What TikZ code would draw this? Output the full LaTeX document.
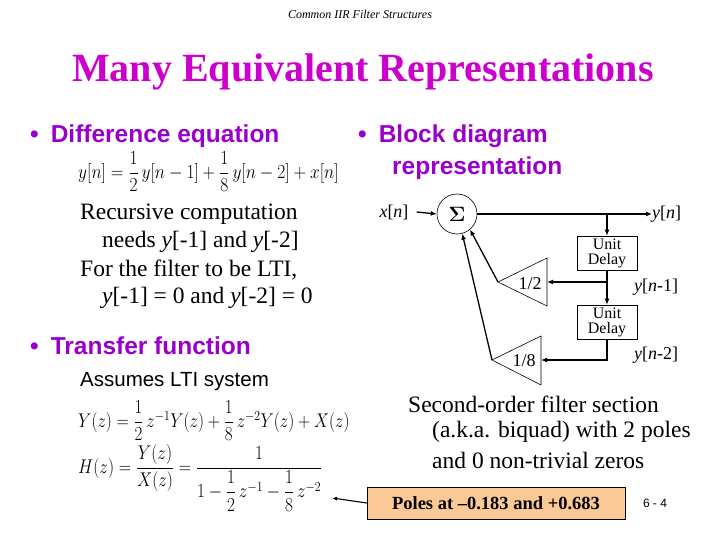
\documentclass[tikz,border=0pt]{standalone}
\usepackage{fontspec}
\setmainfont{Liberation Serif}
\setsansfont{Liberation Sans}
\usepackage{amsmath}
\usetikzlibrary{arrows.meta}
\definecolor{ttl}{HTML}{CC00CC}
\definecolor{bul}{HTML}{9900CC}
\definecolor{peach}{HTML}{FBC995}
\begin{document}
\begin{tikzpicture}[x=1pt,y=-1pt,
  body/.style={font=\fontsize{23.5}{26}\selectfont,inner sep=0pt},
  bull/.style={font=\fontsize{24.5}{28}\selectfont\sffamily\bfseries,text=bul,anchor=west,inner sep=0pt},
  eq/.style={font=\fontsize{17}{20}\selectfont,inner sep=0pt},
  dl/.style={draw,line width=0.6pt,minimum width=60pt,minimum height=34pt,align=center,font=\fontsize{16}{15}\selectfont,inner sep=1pt},
  sig/.style={line width=1.3pt,-{Latex[length=6pt,width=5pt]}},
  lbl/.style={font=\fontsize{18}{20}\selectfont,inner sep=0pt}]
\useasboundingbox (0,0) rectangle (720,540);
\node[font=\fontsize{12}{13}\selectfont\itshape] (hdr) at (360,14) {Common IIR Filter Structures};
\node[font=\fontsize{40}{44}\selectfont\bfseries,text=ttl] (title) at (363,72) {Many Equivalent Representations};
\node[bull] (b1) at (30,136) {\textbullet\hspace{12pt}Difference equation};
\node[eq,anchor=west] (de) at (78,172) {\scalebox{1.01}[1.15]{$y[n]=\dfrac{1}{2}\,y[n-1]+\dfrac{1}{8}\,y[n-2]+x[n]$}};
\node[body,anchor=west] (r1) at (80,214) {Recursive computation};
\node[body,anchor=west] (r2) at (102,242) {needs \textit{y}[-1] and \textit{y}[-2]};
\node[body,anchor=west] (r3) at (80,270) {For the filter to be LTI,};
\node[body,anchor=west] (r4) at (102,298) {\textit{y}[-1] = 0 and \textit{y}[-2] = 0};
\node[bull] (b2) at (30,346) {\textbullet\hspace{12pt}Transfer function};
\node[font=\fontsize{20.5}{22}\selectfont\sffamily,anchor=west,inner sep=0pt] (lti) at (80,382) {Assumes LTI system};
\node[eq,anchor=west] (yz) at (78,421) {\scalebox{0.98}[1.15]{$Y(z)=\dfrac{1}{2}\,z^{-1}Y(z)+\dfrac{1}{8}\,z^{-2}Y(z)+X(z)$}};
\node[eq,anchor=west] (hz) at (78,478) {\scalebox{0.99}[1.15]{$H(z)=\dfrac{Y(z)}{X(z)}=\dfrac{1}{1-\dfrac{1}{2}\,z^{-1}-\dfrac{1}{8}\,z^{-2}}$}};
\node[bull] (b3) at (358,136) {\textbullet\hspace{12pt}Block diagram};
\node[bull] (b3b) at (392,168) {representation};
% block diagram
\node[lbl] (x) at (394,212) {\textit{x}[\textit{n}]};
\node[draw,line width=0.6pt,circle,minimum size=40pt,inner sep=0pt,font=\fontsize{22}{22}\selectfont] (s) at (457,214) {$\boldsymbol{\Sigma}$};
\node[lbl,anchor=west] (y) at (652,214) {\textit{y}[\textit{n}]};
\coordinate (j0) at (607,214);
\node[dl] (d1) at (607,253) {Unit\\Delay};
\coordinate (j1) at (607,282);
\node[dl] (d2) at (607,322) {Unit\\Delay};
\coordinate (j2) at (607,360);
\node[lbl,anchor=west] (y1) at (634,287) {\textit{y}[\textit{n}-1]};
\node[lbl,anchor=west] (y2) at (634,355) {\textit{y}[\textit{n}-2]};
\draw[line width=0.6pt] (498,282) coordinate (t1) -- (547,258) -- (547,306) -- cycle;
\draw[line width=0.6pt] (492,360) coordinate (t2) -- (541,336) -- (541,385) -- cycle;
\node[lbl] (g1) at (530,284) {1/2};
\node[lbl] (g2) at (524,361) {1/8};
\draw[sig] ([xshift=8pt]x.east) -- (s.west);
\draw[sig] (s.east) -- (y.west);
\draw[sig] (j0) -- (d1.north);
\draw[sig] (d1.south) -- (d2.north);
\draw[sig] (j1) -- (547,282);
\draw[sig] (d2.south) -- (j2) -- (541,360);
\draw[sig] (t1) -- (s.-50);
\draw[sig] (t2) -- (s.-75);
% text
\node[body,anchor=west] (so1) at (408,404) {Second-order filter section};
\node[body,anchor=west] (so2) at (432,432) {(a.k.a. biquad) with 2 poles};
\node[body,anchor=west] (so3) at (432,460) {and 0 non-trivial zeros};
\node[draw,fill=peach,minimum width=258pt,minimum height=32pt,font=\fontsize{18.5}{20}\selectfont\bfseries] (p) at (496,503) {Poles at --0.183 and +0.683};
\draw[line width=1.1pt,-{Latex[length=5pt,width=4pt]}] (p.west) -- (332,498);
\node[font=\fontsize{12}{13}\selectfont\sffamily] (pg) at (655,503) {6 - 4};
\end{tikzpicture}
\end{document}
